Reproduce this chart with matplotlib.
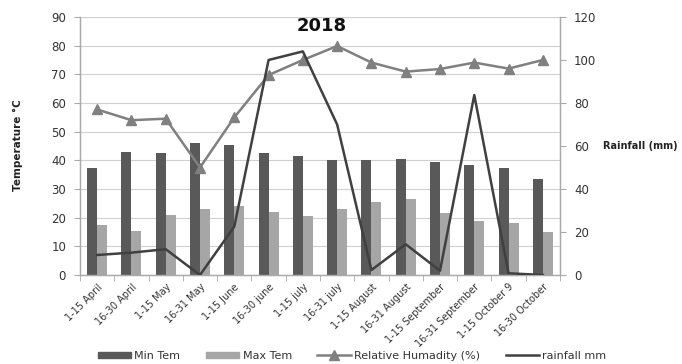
import matplotlib
matplotlib.use("Agg")
import matplotlib.pyplot as plt
import numpy as np
from matplotlib.lines import Line2D
from matplotlib.patches import Patch

categories = ["1-15 April", "16-30 April", "1-15 May", "16-31 May", "1-15 June",
              "16-30 june", "1-15 july", "16-31 july", "1-15 August", "16-31 August",
              "1-15 September", "16-31 September", "1-15 October 9", "16-30 October"]
min_tem = [37.5, 43, 42.5, 46, 45.5, 42.5, 41.5, 40, 40, 40.5, 39.5, 38.5, 37.3, 33.5]
max_tem = [17.6, 15.5, 21, 23, 24, 22, 20.5, 23, 25.6, 26.5, 21.5, 19, 18, 15.1]
humidity = [77, 72, 72.7, 50, 73.3, 93, 100, 106.5, 98.8, 94.6, 95.8, 98.8, 96, 100]
rainfall = [9.3, 10.4, 12, 0, 22.5, 100, 104, 70, 2.3, 14.3, 2, 83.7, 0.8, 0]

dark = "#595959"
light = "#a6a6a6"
hum_c = "#808080"
rain_c = "#404040"
grid_c = "#d0d0d0"

fig = plt.figure(figsize=(6.82, 3.64), dpi=100)
ax = fig.add_axes([80/682, 1-275/364, 480/682, 258/364])
ax2 = ax.twinx()

x = np.arange(len(categories))
w = 0.29
ax.bar(x - w/2, min_tem, width=w, color=dark, zorder=2)
ax.bar(x + w/2, max_tem, width=w, color=light, zorder=2)

ax.set_xlim(-0.5, len(categories) - 0.5)
ax.set_ylim(0, 90)
ax.set_yticks(np.arange(0, 91, 10))
ax.yaxis.grid(True, color=grid_c, linewidth=0.8, zorder=0)
ax.set_axisbelow(True)

ax2.plot(x, humidity, color=hum_c, linewidth=1.8, marker="^", markersize=7, zorder=3)
ax2.plot(x, rainfall, color=rain_c, linewidth=1.8, zorder=3)
ax2.set_ylim(0, 120)
ax2.set_yticks(np.arange(0, 121, 20))

ax.set_xticks(x)
ax.set_xticklabels(categories, rotation=45, ha="right", rotation_mode="anchor",
                   fontsize=7, color="#333333")
ax.set_xticks(np.arange(-0.5, len(categories), 1), minor=True)
ax.tick_params(axis="x", which="major", length=0, pad=5)
ax.tick_params(axis="x", which="minor", length=4, color="#aaaaaa")
ax.tick_params(axis="y", length=4, color="#aaaaaa", labelsize=8.5, labelcolor="#333333", pad=6)
ax2.tick_params(axis="y", length=4, color="#aaaaaa", labelsize=8.5, labelcolor="#333333", pad=6)

for a in (ax, ax2):
    a.spines["top"].set_visible(False)
    for s in ("left", "right", "bottom"):
        a.spines[s].set_color("#aaaaaa")
        a.spines[s].set_linewidth(0.9)
ax.axhline(90, color=grid_c, linewidth=0.8)

fig.text(18/682, 1-145/364, "Temperature °C", rotation=90, ha="center", va="center",
         fontsize=7.5, fontweight="bold", color="#222222")
fig.text(603/682, 1-146/364, "Rainfall (mm)", ha="left", va="center",
         fontsize=7, fontweight="bold", color="#222222")
fig.text(322/682, 1-26/364, "2018", ha="center", va="center",
         fontsize=13, fontweight="bold", color="#111111")

handles = [Patch(color=dark), Patch(color=light),
           Line2D([], [], color=hum_c, marker="^", markersize=7, linewidth=1.8),
           Line2D([], [], color=rain_c, linewidth=1.8)]
labels = ["Min Tem", "Max Tem", "Relative Humadity (%)", "rainfall mm"]
fig.legend(handles, labels, loc="center", bbox_to_anchor=(352/682, 1-356/364),
           ncol=4, frameon=False, fontsize=8, handlelength=3, handleheight=0.5,
           columnspacing=2.3, handletextpad=0.3, labelcolor="#333333")

fig.savefig("out.png", dpi=100, facecolor="white")
